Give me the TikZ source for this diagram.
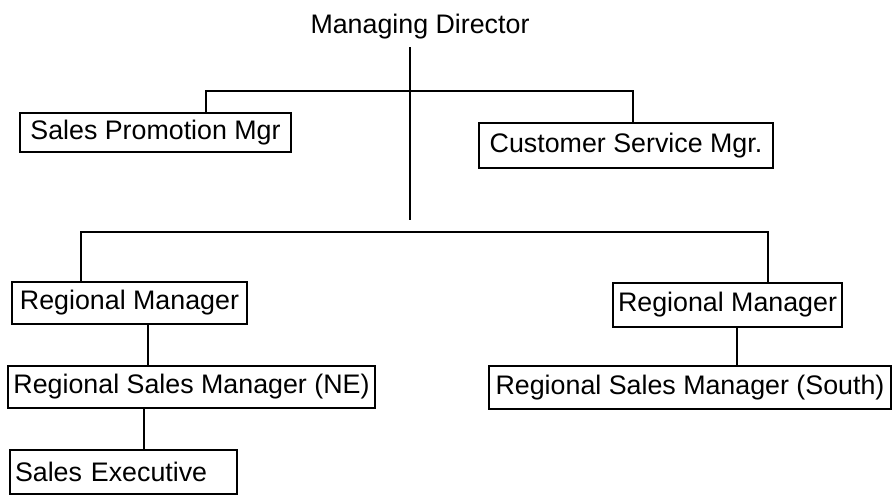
\documentclass[tikz,border=0pt]{standalone}
\usepackage{fontspec}
\setmainfont{Liberation Sans}
\begin{document}
\begin{tikzpicture}[x=1pt,y=-1pt,
  box/.style={draw, line width=1.7pt, inner sep=0pt, font=\fontsize{26.8}{27}\selectfont},
  lbl/.style={inner sep=0pt, font=\fontsize{26.8}{27}\selectfont},
  conn/.style={line width=1.7pt}]
\useasboundingbox (0,0) rectangle (893,496);
\node[lbl] (md) at (420,27) {Managing Director};
\node[box, minimum width=271pt, minimum height=39pt] (spm) at (155.5,132.5) {Sales Promotion Mgr};
\node[box, minimum width=294pt, minimum height=45pt] (csm) at (626,145.5) {Customer Service Mgr.};
\node[box, minimum width=235pt, minimum height=42pt] (rm1) at (129.5,303) {Regional Manager};
\node[box, minimum width=229pt, minimum height=44pt] (rm2) at (727.5,305) {Regional Manager};
\node[box, minimum width=367pt, minimum height=42pt] (rsmne) at (191.5,387) {Regional Sales Manager (NE)};
\node[box, minimum width=402pt, minimum height=43pt] (rsms) at (690,387.5) {Regional Sales Manager (South)};
\node[box, minimum width=227pt, minimum height=44pt, text width=217pt, align=left] (se) at (123.5,472) {Sales Executive};
% trunk
\coordinate (t0) at (410,47);
\coordinate (t1) at (410,220);
\draw[conn] (t0) -- (t1);
% first branch
\coordinate (h1l) at (206,91);
\coordinate (h1r) at (633,91);
\draw[conn] (h1l |- spm.north) -- (h1l) -- (h1r) -- (h1r |- csm.north);
% second branch
\coordinate (h2l) at (81,232);
\coordinate (h2r) at (768,232);
\draw[conn] (h2l |- rm1.north) -- (h2l) -- (h2r) -- (h2r |- rm2.north);
% lower links
\coordinate (c1) at (148,0);
\coordinate (c2) at (144,0);
\coordinate (c3) at (737,0);
\draw[conn] (c1 |- rm1.south) -- (c1 |- rsmne.north);
\draw[conn] (c2 |- rsmne.south) -- (c2 |- se.north);
\draw[conn] (c3 |- rm2.south) -- (c3 |- rsms.north);
\end{tikzpicture}
\end{document}
